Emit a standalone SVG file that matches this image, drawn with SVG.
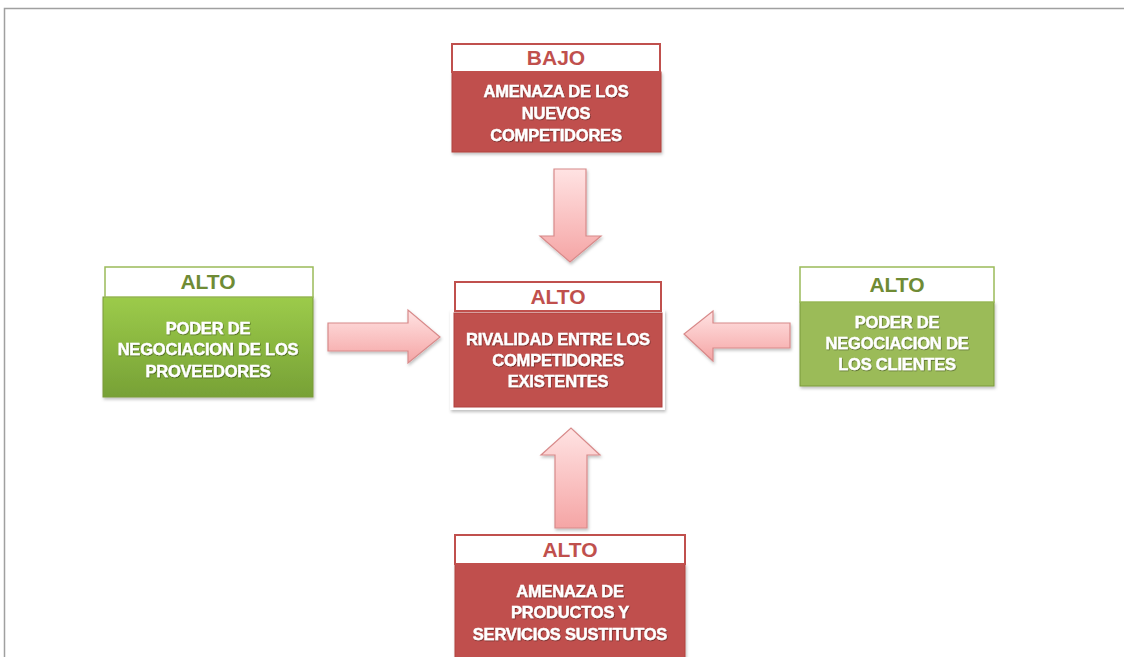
<svg xmlns="http://www.w3.org/2000/svg" width="1124" height="657" viewBox="0 0 1124 657">
<style>
.hdrR{fill:#ffffff;stroke:#c0504d;stroke-width:2}
.hdrG{fill:#ffffff;stroke:#9bbb59;stroke-width:1.5}
.bodyR{fill:#c0504d;stroke:#b0413e;stroke-width:1}
.bodyG{fill:#9bbb59;stroke:#7a9a3a;stroke-width:1}
.ht{font-family:"Liberation Sans",Arial,sans-serif;font-weight:bold;font-size:21px;text-anchor:middle}
.htR{fill:#c0504d}
.htG{fill:#6f8b35}
.bt{font-family:"Liberation Sans",Arial,sans-serif;font-weight:bold;font-size:16.5px;fill:#ffffff;stroke:#ffffff;stroke-width:0.4;text-anchor:middle;letter-spacing:-0.2px}
.arrow{fill:url(#ag);stroke:#d88a8a;stroke-width:1.2;filter:url(#sh)}
</style>
<defs>
<linearGradient id="ag" x1="0" y1="0" x2="0" y2="1">
<stop offset="0" stop-color="#ffe3e3"/>
<stop offset="1" stop-color="#f5a5a5"/>
</linearGradient>
<linearGradient id="gg" x1="0" y1="0" x2="0" y2="1">
<stop offset="0" stop-color="#9ccb4a"/>
<stop offset="1" stop-color="#77a136"/>
</linearGradient>
<filter id="sh" x="-20%" y="-20%" width="140%" height="140%">
<feDropShadow dx="1" dy="2" stdDeviation="1.5" flood-color="#000" flood-opacity="0.25"/>
</filter>
<filter id="ts" x="-10%" y="-30%" width="120%" height="160%">
<feDropShadow dx="0.6" dy="0.8" stdDeviation="0.6" flood-color="#000" flood-opacity="0.5"/>
</filter>
</defs>
<rect x="0" y="0" width="1124" height="657" fill="#ffffff"/>
<path d="M4.5 657 V8.5 H1124" fill="none" stroke="#a0a0a0" stroke-width="1.5"/>

<g id="connectors">
<path class="arrow" d="M554 169 H586 V236 H601 L570 262 L540 236 H554 Z"/>
<path class="arrow" d="M328 323 H408 V310 L440 337 L408 363 V351 H328 Z"/>
<path class="arrow" d="M790 323 H713 V311 L684 334 L713 361 V348 H790 Z"/>
<path class="arrow" d="M555 528 H587 V455 H600 L571 428 L541 455 H555 Z"/>
</g>

<g id="node-top">
<rect class="bodyR" x="452" y="72" width="209" height="80" filter="url(#sh)"/>
<rect class="hdrR" x="452" y="44" width="208" height="28"/>
<text class="ht htR" x="556" y="65">BAJO</text>
<g filter="url(#ts)">
<text class="bt" x="556" y="97">AMENAZA DE LOS</text>
<text class="bt" x="556" y="119">NUEVOS</text>
<text class="bt" x="556" y="141">COMPETIDORES</text>
</g>
</g>

<g id="node-left">
<rect x="103" y="297" width="210" height="100" fill="url(#gg)" stroke="#7a9a3a" stroke-width="1" filter="url(#sh)"/>
<rect class="hdrG" x="105" y="267" width="208" height="30"/>
<text class="ht htG" x="208" y="289">ALTO</text>
<g filter="url(#ts)">
<text class="bt" x="208" y="334">PODER DE</text>
<text class="bt" x="208" y="355">NEGOCIACION DE LOS</text>
<text class="bt" x="208" y="377">PROVEEDORES</text>
</g>
</g>

<g id="node-center">
<rect x="450" y="310" width="215" height="100" fill="#ffffff" filter="url(#sh)"/>
<rect class="bodyR" x="454" y="313" width="208" height="94"/>
<rect class="hdrR" x="455" y="282" width="206" height="29"/>
<text class="ht htR" x="558" y="304">ALTO</text>
<g filter="url(#ts)">
<text class="bt" x="558" y="345">RIVALIDAD ENTRE LOS</text>
<text class="bt" x="558" y="366">COMPETIDORES</text>
<text class="bt" x="558" y="387">EXISTENTES</text>
</g>
</g>

<g id="node-right">
<rect class="bodyG" x="800" y="302" width="194" height="84" filter="url(#sh)"/>
<rect class="hdrG" x="800" y="267" width="194" height="35"/>
<text class="ht htG" x="897" y="292">ALTO</text>
<g filter="url(#ts)">
<text class="bt" x="897" y="328">PODER DE</text>
<text class="bt" x="897" y="349">NEGOCIACION DE</text>
<text class="bt" x="897" y="370">LOS CLIENTES</text>
</g>
</g>

<g id="node-bottom">
<rect class="bodyR" x="455" y="564" width="230" height="100" filter="url(#sh)"/>
<rect class="hdrR" x="455" y="535" width="230" height="29"/>
<text class="ht htR" x="570" y="557">ALTO</text>
<g filter="url(#ts)">
<text class="bt" x="570" y="597">AMENAZA DE</text>
<text class="bt" x="570" y="618">PRODUCTOS Y</text>
<text class="bt" x="570" y="640">SERVICIOS SUSTITUTOS</text>
</g>
</g>
</svg>
